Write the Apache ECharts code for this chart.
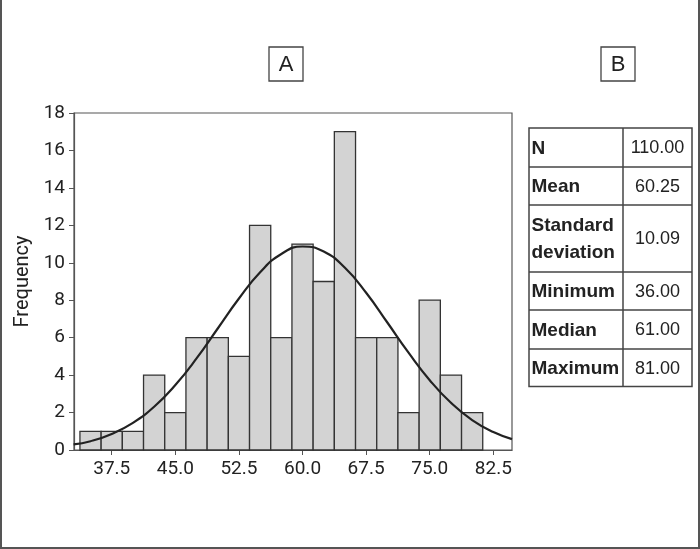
<!DOCTYPE html>
<html>
<head>
<meta charset="utf-8">
<script src="https://cdn.jsdelivr.net/npm/echarts@6/dist/echarts.min.js"></script>
<style>
html,body{margin:0;padding:0;background:#fff;}
#chart{width:700px;height:549px;}
</style>
</head>
<body>
<div id="chart"></div>
<script>
// Histogram bins (midpoints) and frequencies
var binMids = [35, 37.5, 40, 42.5, 45, 47.5, 50, 52.5, 55, 57.5, 60, 62.5, 65, 67.5, 70, 72.5, 75, 77.5, 80];
var binCounts = [1, 1, 1, 4, 2, 6, 6, 5, 12, 6, 11, 9, 17, 6, 6, 2, 8, 4, 2];
var binWidth = 2.5;

// Fitted normal curve
var curveX = [33, 35, 37.5, 40, 42.5, 45, 47.5, 50, 52.5, 55, 57.5, 60, 62.5, 65, 67.5, 70, 72.5, 75, 77.5, 80, 82.5, 84.7];
var curveY = [0.3, 0.47, 0.86, 1.45, 2.31, 3.47, 4.89, 6.49, 8.09, 9.49, 10.47, 10.87, 10.6, 9.73, 8.4, 6.81, 5.2, 3.73, 2.52, 1.6, 0.96, 0.58];

// Axis tick labels
var xTicks = [37.5, 45.0, 52.5, 60.0, 67.5, 75.0, 82.5];

// Statistics table
var statLabels = ["N", "Mean", "Standard\ndeviation", "Minimum", "Median", "Maximum"];
var statValues = ["110.00", "60.25", "10.09", "36.00", "61.00", "81.00"];

var panelLabels = ["A", "B"];

var chart = echarts.init(document.getElementById('chart'));

var histData = binMids.map(function (m, i) { return [m, binCounts[i]]; });
var curveData = curveX.map(function (x, i) { return [x, curveY[i]]; });

// table layout
var rowEdges = [128, 167, 205, 272, 310, 349, 386.5];
var tblLeft = 529, tblMid = 623, tblRight = 692;
var graphics = [];
graphics.push({
  type: 'rect', shape: { x: tblLeft, y: rowEdges[0], width: tblRight - tblLeft, height: rowEdges[rowEdges.length - 1] - rowEdges[0] },
  style: { fill: 'none', stroke: '#444', lineWidth: 1.5 }, z: 10
});
graphics.push({
  type: 'line', shape: { x1: tblMid, y1: rowEdges[0], x2: tblMid, y2: rowEdges[rowEdges.length - 1] },
  style: { stroke: '#444', lineWidth: 1.5 }, z: 10
});
for (var r = 1; r < rowEdges.length - 1; r++) {
  graphics.push({
    type: 'line', shape: { x1: tblLeft, y1: rowEdges[r], x2: tblRight, y2: rowEdges[r] },
    style: { stroke: '#444', lineWidth: 1.5 }, z: 10
  });
}
statLabels.forEach(function (lab, i) {
  var cy = (rowEdges[i] + rowEdges[i + 1]) / 2;
  graphics.push({
    type: 'text', x: tblLeft + 2.5, y: cy + 1,
    style: { text: lab, font: 'bold 19px "Liberation Sans", Arial, sans-serif', fill: '#222', verticalAlign: 'middle', align: 'left', lineHeight: 27 },
    z: 11
  });
  graphics.push({
    type: 'text', x: (tblMid + tblRight) / 2, y: cy + 1,
    style: { text: statValues[i], font: '18px "Liberation Sans", Arial, sans-serif', fill: '#222', verticalAlign: 'middle', align: 'center' },
    z: 11
  });
});
// Panel labels
var panelPos = [[269, 47], [601, 47]];
panelLabels.forEach(function (p, i) {
  graphics.push({
    type: 'rect', shape: { x: panelPos[i][0], y: panelPos[i][1], width: 34, height: 34 },
    style: { fill: '#fff', stroke: '#444', lineWidth: 1.3 }, z: 10
  });
  graphics.push({
    type: 'text', x: panelPos[i][0] + 17, y: panelPos[i][1] + 18,
    style: { text: p, font: '22px "Liberation Sans", Arial, sans-serif', fill: '#222', align: 'center', verticalAlign: 'middle' },
    z: 11
  });
});
// outer border
graphics.push({
  type: 'polyline', shape: { points: [[1, 0], [1, 548], [699, 548], [699, 0]] },
  style: { fill: 'none', stroke: '#555', lineWidth: 2 }, z: 10
});

var axisFont = 'Roboto, "Liberation Sans", Arial, sans-serif';

chart.setOption({
  animation: false,
  backgroundColor: '#fff',
  grid: { left: 74, right: 188, top: 113, bottom: 99, show: true, borderColor: '#555', borderWidth: 1.2, backgroundColor: 'transparent' },
  xAxis: {
    type: 'value', min: 33.05, max: 84.7,
    splitLine: { show: false },
    axisLine: { show: true, lineStyle: { color: '#555', width: 1.2 } },
    axisTick: { show: true, length: 5, lineStyle: { color: '#555' }, customValues: xTicks },
    axisLabel: { customValues: xTicks, color: '#222', fontSize: 19, fontFamily: axisFont, margin: 10,
      formatter: function (v) { return v.toFixed(1); } }
  },
  yAxis: {
    type: 'value', min: 0, max: 18, interval: 2,
    name: 'Frequency', nameLocation: 'middle', nameGap: 40,
    nameTextStyle: { color: '#222', fontSize: 20, fontFamily: axisFont },
    splitLine: { show: false },
    axisLine: { show: true, lineStyle: { color: '#555', width: 1.2 } },
    axisTick: { show: true, length: 5, lineStyle: { color: '#555' } },
    axisLabel: { color: '#222', fontSize: 19, fontFamily: axisFont, margin: 9 }
  },
  series: [
    {
      type: 'custom',
      data: histData,
      renderItem: function (params, api) {
        var mid = api.value(0), cnt = api.value(1);
        var p0 = api.coord([mid - binWidth / 2, 0]);
        var p1 = api.coord([mid + binWidth / 2, cnt]);
        return {
          type: 'rect',
          shape: { x: p0[0], y: p1[1], width: p1[0] - p0[0], height: p0[1] - p1[1] },
          style: { fill: '#d3d3d3', stroke: '#333', lineWidth: 1.3 }
        };
      },
      encode: { x: 0, y: 1 },
      z: 2
    },
    {
      type: 'line',
      data: curveData,
      smooth: true,
      showSymbol: false,
      lineStyle: { color: '#222', width: 2.2 },
      z: 3
    }
  ],
  graphic: graphics
});
</script>
</body>
</html>
